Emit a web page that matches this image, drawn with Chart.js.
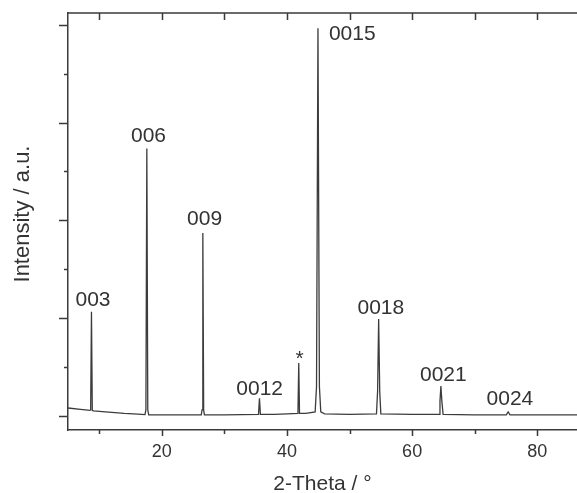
<!DOCTYPE html>
<html>
<head>
<meta charset="utf-8">
<script src="https://cdn.jsdelivr.net/npm/chart.js@4"></script>
<style>
    html, body { margin: 0; padding: 0; background: #fff; }
    #wrap { position: relative; width: 577px; height: 493px; }
</style>
</head>
<body>
<div id="wrap"><canvas id="xrdChart"></canvas></div>
<script>
// XRD pattern (intensity in arbitrary units)
const twoTheta = [
    5, 7, 8.5, 8.62, 8.75, 8.88, 9.1, 10, 12, 14, 15.5, 17.3, 17.45, 17.6, 17.75, 17.9,
    20, 24, 26.3, 26.42, 26.55, 26.68, 26.8, 30, 35.45, 35.6, 35.75, 38, 40,
    41.75, 41.88, 42.0, 43, 44.5, 44.72, 44.95, 45.18, 45.4, 46, 50,
    54.3, 54.48, 54.65, 54.82, 55.0, 60, 64.3, 64.45, 64.6, 64.75, 64.95,
    70, 75.05, 75.35, 75.65, 80, 86.5
];
const intensity = [
    0.16, 0.13, 0.11, 0.12, 2.13, 0.11, 0.10, 0.09, 0.07, 0.05, 0.04, 0.025, 0.12, 5.47, 0.12, 0.02,
    0.02, 0.02, 0.02, 0.12, 3.74, 0.12, 0.02, 0.02, 0.03, 0.36, 0.03, 0.03, 0.04,
    0.05, 1.08, 0.05, 0.05, 0.08, 0.6, 7.93, 0.6, 0.08, 0.04, 0.03,
    0.04, 0.5, 1.98, 0.5, 0.04, 0.03, 0.03, 0.3, 0.61, 0.3, 0.03,
    0.02, 0.02, 0.08, 0.02, 0.02, 0.02
];

// reflection labels and where they sit (data units)
const peakLabels = ['003', '006', '009', '0012', '*', '0015', '0018', '0021', '0024'];
const peakLabelX = [9.0, 17.87, 26.83, 35.63, 42.03, 50.43, 55.0, 64.99, 75.63];
const peakLabelY = [2.37, 5.71, 4.03, 0.55, 1.15, 7.81, 2.21, 0.84, 0.33];

const xTickLabels = [20, 40, 60, 80];

const fontFamily = '"Liberation Sans", Arial, Helvetica, sans-serif';
const textColor = '#333333';
const axisColor = '#3a3a3a';

const frameAndLabels = {
    id: 'frameAndLabels',
    afterDraw(chart) {
        const { ctx, chartArea: area, scales: { x, y } } = chart;
        ctx.save();
        ctx.strokeStyle = axisColor;
        ctx.lineWidth = 1.5;

        // top frame line
        ctx.beginPath();
        ctx.moveTo(area.left, area.top);
        ctx.lineTo(area.right, area.top);
        ctx.stroke();

        // x tick marks: bottom outward, top inward
        x.ticks.forEach(t => {
            const px = Math.round(x.getPixelForValue(t.value)) + 0.5;
            const major = xTickLabels.includes(t.value);
            ctx.beginPath();
            ctx.moveTo(px, area.bottom);
            ctx.lineTo(px, area.bottom + (major ? 6 : 4));
            ctx.moveTo(px, area.top);
            ctx.lineTo(px, area.top + 7);
            ctx.stroke();
        });

        // y tick marks, outward
        y.ticks.forEach(t => {
            const py = Math.round(y.getPixelForValue(t.value)) + 0.5;
            const major = t.value % 2 === 0;
            ctx.beginPath();
            ctx.moveTo(area.left, py);
            ctx.lineTo(area.left - (major ? 9 : 4), py);
            ctx.stroke();
        });

        // peak labels
        ctx.fillStyle = textColor;
        ctx.font = '21px ' + fontFamily;
        ctx.textAlign = 'center';
        ctx.textBaseline = 'middle';
        peakLabels.forEach((label, i) => {
            ctx.fillText(label, x.getPixelForValue(peakLabelX[i]), y.getPixelForValue(peakLabelY[i]));
        });

        // y axis title
        ctx.font = '22px ' + fontFamily;
        ctx.translate(23, 214);
        ctx.rotate(-Math.PI / 2);
        ctx.fillText('Intensity / a.u.', 0, 0);
        ctx.restore();
    }
};

const ctx = document.getElementById('xrdChart').getContext('2d');

new Chart(ctx, {
    type: 'line',
    data: {
        datasets: [{
            data: twoTheta.map((t, i) => ({ x: t, y: intensity[i] })),
            borderColor: '#3c3c3c',
            borderWidth: 1.3,
            pointRadius: 0,
            tension: 0,
            fill: false
        }]
    },
    options: {
        responsive: true,
        maintainAspectRatio: false,
        animation: false,
        layout: { padding: { left: 68, top: 13, right: 0, bottom: 0 } },
        plugins: {
            legend: { display: false },
            tooltip: { enabled: false }
        },
        scales: {
            x: {
                type: 'linear',
                min: 5,
                max: 86.35,
                grid: { display: false, drawTicks: false },
                border: { display: true, color: axisColor, width: 1.5 },
                afterFit: scale => { scale.height = 63; },
                ticks: {
                    stepSize: 10,
                    includeBounds: false,
                    autoSkip: false,
                    maxRotation: 0,
                    padding: 11,
                    color: textColor,
                    font: { size: 18, family: fontFamily },
                    callback: value => xTickLabels.includes(value) ? String(value) : ''
                },
                title: {
                    display: true,
                    text: '2-Theta / °',
                    color: textColor,
                    font: { size: 21, family: fontFamily, lineHeight: 0.86 },
                    padding: { top: 0, bottom: 0 }
                }
            },
            y: {
                type: 'linear',
                min: -0.29,
                max: 8.24,
                grid: { display: false, drawTicks: false },
                border: { display: true, color: axisColor, width: 1.5 },
                afterFit: scale => { scale.width = 0; },
                ticks: { display: false, stepSize: 1, includeBounds: false }
            }
        }
    },
    plugins: [frameAndLabels]
});
</script>
</body>
</html>
